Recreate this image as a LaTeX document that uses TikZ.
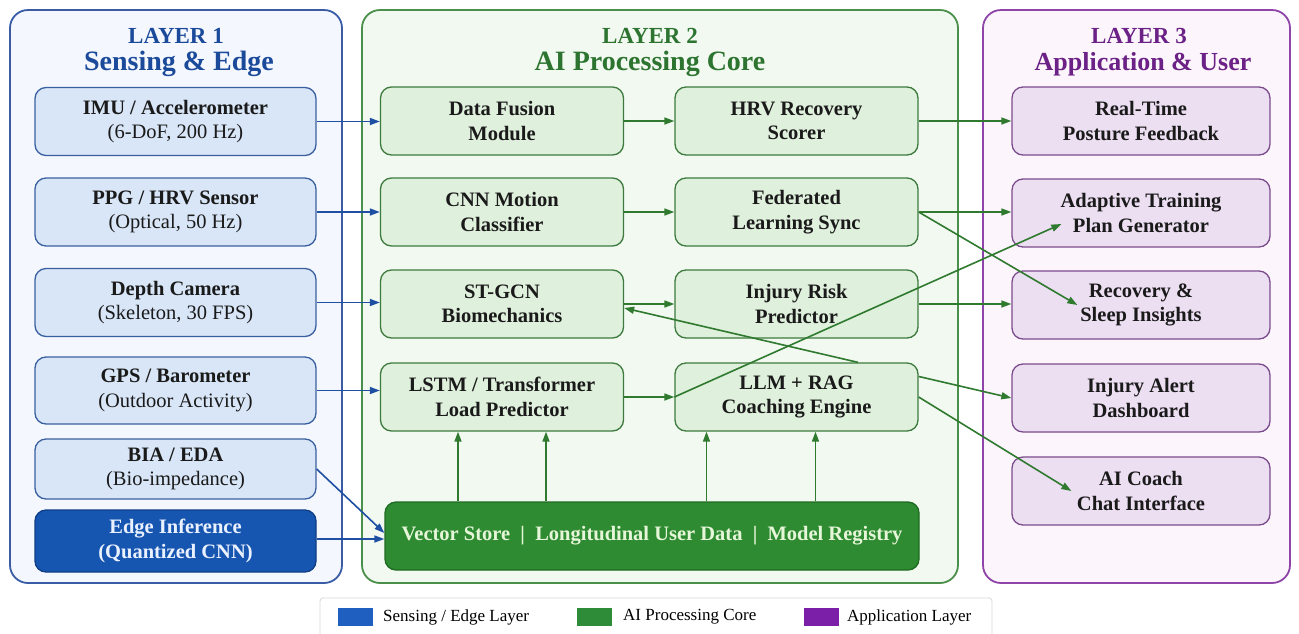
\documentclass[tikz,border=0pt]{standalone}
\usepackage{fontspec}
\setmainfont{Liberation Serif}
\usetikzlibrary{arrows.meta}

\definecolor{ink}{HTML}{1A1A1A}
\definecolor{laybg}{HTML}{F4F8FE}
\definecolor{layline}{HTML}{3A5CA6}
\definecolor{laytitle}{HTML}{1B4A9B}
\definecolor{senbox}{HTML}{D8E6F7}
\definecolor{senline}{HTML}{3B609F}
\definecolor{edgefill}{HTML}{1756B0}
\definecolor{edgeline}{HTML}{0F3E86}
\definecolor{edgetext}{HTML}{EAF1FF}
\definecolor{senarrow}{HTML}{1F4FA3}
\definecolor{corebg}{HTML}{F2F9F1}
\definecolor{coreline}{HTML}{4A8F4A}
\definecolor{coretitle}{HTML}{2C7430}
\definecolor{corebox}{HTML}{DFF0DC}
\definecolor{coreboxline}{HTML}{3D7A3D}
\definecolor{storefill}{HTML}{2E8B32}
\definecolor{storeline}{HTML}{1F6B22}
\definecolor{storetext}{HTML}{E6F6D8}
\definecolor{corearrow}{HTML}{2F7A2F}
\definecolor{appbg}{HTML}{FCF5FC}
\definecolor{appline}{HTML}{8E44A8}
\definecolor{apptitle}{HTML}{6B2185}
\definecolor{appbox}{HTML}{ECDFF2}
\definecolor{appboxline}{HTML}{7B4C8C}
\definecolor{keyblue}{HTML}{1F5FC0}
\definecolor{keygreen}{HTML}{2E8B37}
\definecolor{keypurple}{HTML}{7C1FA8}

\begin{document}
\begin{tikzpicture}[x=1pt, y=-1pt, >={Triangle[length=10pt,width=7pt]},
    panel/.style={rounded corners=18pt, line width=1.8pt},
    tbox/.style={rounded corners=11pt, line width=1.3pt, align=center, text=ink,
        minimum height=68pt, inner sep=0pt, font=\fontsize{20.5}{24.5}\selectfont\bfseries},
    senbox/.style={tbox, draw=senline, fill=senbox, minimum width=281pt},
    corebox/.style={tbox, draw=coreboxline, fill=corebox, minimum width=243pt},
    appbox/.style={tbox, draw=appboxline, fill=appbox, minimum width=258pt},
    store/.style={tbox, draw=storeline, fill=storefill, text=storetext, minimum width=534pt},
    ttl/.style={font=\fontsize{23}{26}\selectfont\bfseries, anchor=base},
    subttl/.style={font=\fontsize{28}{30}\selectfont\bfseries, anchor=base},
    senarr/.style={->, draw=senarrow, line width=1.6pt},
    corearr/.style={->, draw=corearrow, line width=1.6pt},
    swatch/.style={minimum width=35pt, minimum height=18pt, inner sep=0pt},
    keytxt/.style={anchor=west, inner sep=0pt, font=\fontsize{17}{19}\selectfont}
]
    \useasboundingbox (0,0) rectangle (1299,633);
    \fill[white] (0,0) rectangle (1299,633);

    % Layer 1
    \draw[panel, draw=layline, fill=laybg] (10,10) rectangle (342,583);
    \node[ttl, text=laytitle] (t1a) at (176,43) {LAYER 1};
    \node[subttl, text=laytitle] (t1b) at (179,70) {Sensing \& Edge};
    \node[senbox] (imu) at (175.5,121.5) {IMU / Accelerometer\\{\mdseries (6-DoF, 200 Hz)}};
    \node[senbox] (ppg) at (175.5,212) {PPG / HRV Sensor\\{\mdseries (Optical, 50 Hz)}};
    \node[senbox] (cam) at (175.5,302.5) {Depth Camera\\{\mdseries (Skeleton, 30 FPS)}};
    \node[senbox, minimum height=67pt] (gps) at (175.5,390.5) {GPS / Barometer\\{\mdseries (Outdoor Activity)}};
    \node[senbox, minimum height=60pt] (bia) at (175.5,469) {BIA / EDA\\{\mdseries (Bio-impedance)}};
    \node[senbox, minimum height=62pt, fill=edgefill, draw=edgeline, text=edgetext] (edge) at (175.5,541) {Edge Inference\\(Quantized CNN)};

    % Layer 2
    \draw[panel, draw=coreline, fill=corebg] (362,10) rectangle (958,583);
    \node[ttl, text=coretitle] (t2a) at (650,43) {LAYER 2};
    \node[subttl, text=coretitle] (t2b) at (650,70) {AI Processing Core};
    \node[corebox] (fus) at (502,121) {Data Fusion\\Module};
    \node[corebox] (hrv) at (796.5,121) {HRV Recovery\\Scorer};
    \node[corebox] (cnn) at (502,212) {CNN Motion\\Classifier};
    \node[corebox] (fed) at (796.5,212) {Federated\\Learning Sync};
    \node[corebox] (stg) at (502,304) {ST-GCN\\Biomechanics};
    \node[corebox] (risk) at (796.5,304) {Injury Risk\\Predictor};
    \node[corebox] (lstm) at (502,397) {LSTM / Transformer\\Load Predictor};
    \node[corebox] (llm) at (796.5,397) {LLM + RAG\\Coaching Engine};
    \node[store] (vec) at (652,536) {Vector Store~~|~~Longitudinal User Data~~|~~Model Registry};

    % Layer 3
    \draw[panel, draw=appline, fill=appbg] (983,10) rectangle (1290,583);
    \node[ttl, text=apptitle] (t3a) at (1139,43) {LAYER 3};
    \node[subttl, text=apptitle, font=\fontsize{26}{30}\selectfont\bfseries] (t3b) at (1143,70) {Application \& User};
    \node[appbox] (post) at (1141,121) {Real-Time\\Posture Feedback};
    \node[appbox] (plan) at (1141,213) {Adaptive Training\\Plan Generator};
    \node[appbox] (rec) at (1141,305) {Recovery \&\\Sleep Insights};
    \node[appbox] (alert) at (1141,398) {Injury Alert\\Dashboard};
    \node[appbox] (coach) at (1141,491) {AI Coach\\Chat Interface};

    % Sensing to core
    \draw[senarr] (imu.east) -- (imu.east -| fus.west);
    \draw[senarr] (ppg.east) -- (cnn.west);
    \draw[senarr] (cam.east) -- (cam.east -| stg.west);
    \draw[senarr] (gps.east) -- (gps.east -| lstm.west);
    \draw[senarr] (bia.east) -- ([yshift=3pt]vec.west);
    \draw[senarr] ([yshift=2pt]edge.east) -- ([yshift=2pt]edge.east -| vec.west);

    % Inside the core
    \draw[corearr] (fus.east) -- (hrv.west);
    \draw[corearr] (cnn.east) -- (fed.west);
    \draw[corearr] (stg.east) -- (risk.west);
    \draw[corearr] (lstm.east) -- (llm.west);
    \draw[corearr] ([xshift=-44pt]lstm.south |- vec.north) -- ([xshift=-44pt]lstm.south);
    \draw[corearr] ([xshift=44pt]lstm.south |- vec.north) -- ([xshift=44pt]lstm.south);
    \draw[corearr] ([xshift=-90pt]llm.south |- vec.north) -- ([xshift=-90pt]llm.south);
    \draw[corearr] ([xshift=19pt]llm.south |- vec.north) -- ([xshift=19pt]llm.south);

    % Core to applications
    \draw[corearr] (hrv.east) -- (post.west);
    \draw[corearr] (fed.east) -- (fed.east -| plan.west);
    \draw[corearr] (fed.east) -- ([xshift=66pt]rec.west);
    \draw[corearr] (risk.east) -- (risk.east -| rec.west);
    \draw[corearr] (llm.west) -- ([xshift=50pt,yshift=-11pt]plan.west);
    \coordinate (sgo) at ([yshift=-4pt]stg.east);
    \draw[corearr, <-] (sgo) -- (intersection of sgo--alert.west and llm.north west--llm.north east);
    \draw[corearr] (intersection of sgo--alert.west and llm.north east--llm.south east) -- (alert.west);
    \draw[corearr] (llm.east) -- ([xshift=60pt]coach.west);

    % Legend
    \draw[rounded corners=3pt, draw=black!15, fill=white, line width=0.8pt] (320,598) rectangle (992,640);
    \node[swatch, fill=keyblue] (kb) at (355,617) {};
    \node[keytxt] (kbt) at (383,617) {Sensing / Edge Layer};
    \node[swatch, fill=keygreen] (kg) at (594,617) {};
    \node[keytxt] (kgt) at (623,617) {AI Processing Core};
    \node[swatch, fill=keypurple] (kp) at (821,617) {};
    \node[keytxt] (kpt) at (847,617) {Application Layer};
\end{tikzpicture}
\end{document}
